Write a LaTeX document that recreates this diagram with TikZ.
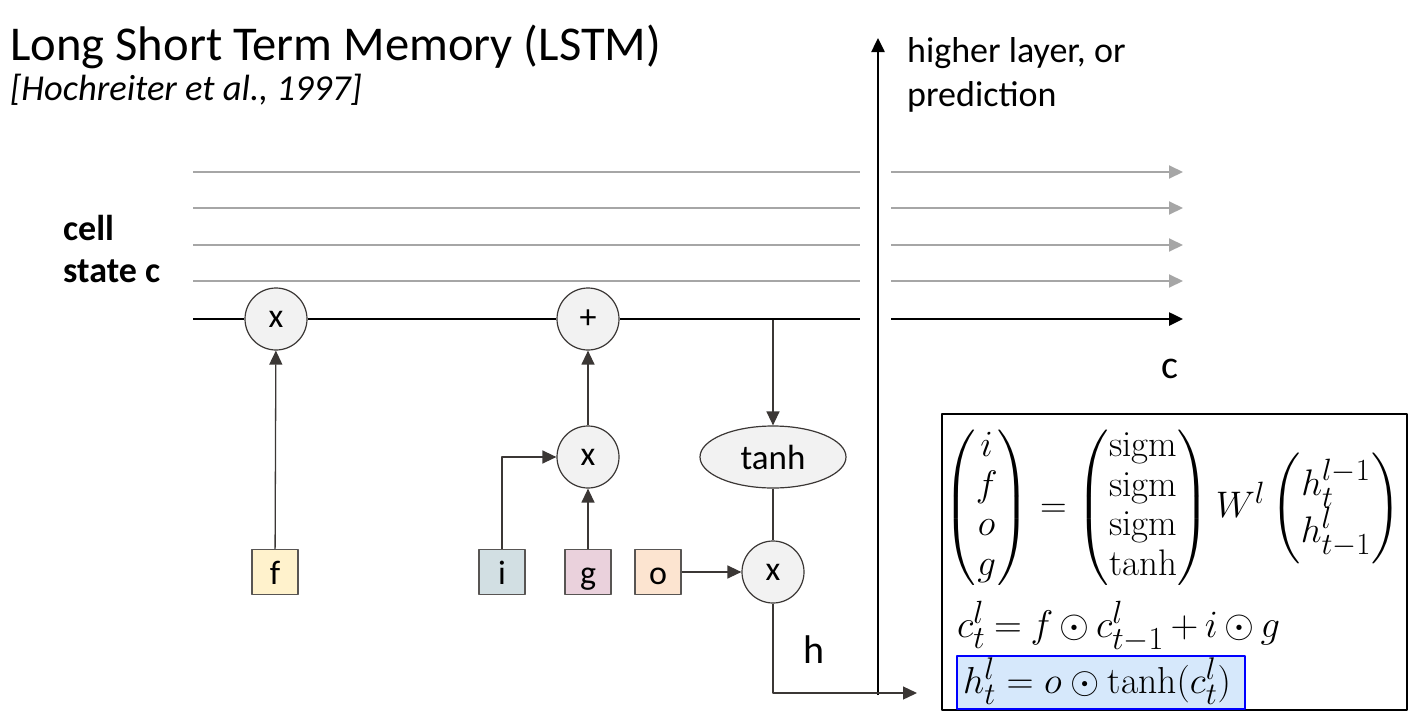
\RequirePackage{fix-cm}
\documentclass[tikz,border=0pt]{standalone}
\usepackage{amsmath}
\usepackage{fontspec}
\newfontfamily\calib{Carlito}
\usetikzlibrary{arrows.meta,shapes.geometric}
\definecolor{lnk}{HTML}{3B3735}
\definecolor{opfill}{HTML}{F2F2F2}
\definecolor{faintline}{HTML}{A6A6A6}
\definecolor{fcol}{HTML}{FFF2CC}
\definecolor{icol}{HTML}{D2DFE3}
\definecolor{gcol}{HTML}{EAD1DC}
\definecolor{ocol}{HTML}{FCE4D0}
\definecolor{hlfill}{HTML}{D6E8FB}
\newcommand{\fs}[1]{\fontsize{#1}{1.2\dimexpr#1pt\relax}\selectfont}
\newcommand{\eqsize}{\fontsize{24.88}{26.8}\selectfont}
\begin{document}
\begin{tikzpicture}[x=1pt, y=-1pt, line join=round, >={Triangle[length=14pt,width=13pt]},
    op/.style={circle, draw=lnk, fill=opfill, line width=1.2pt, minimum size=62pt, inner sep=0pt, font=\calib\fs{34}},
    gatebox/.style={draw=lnk!85, line width=1.4pt, minimum width=46pt, minimum height=45pt, inner sep=0pt, text height=29pt, text depth=5pt, font=\calib\fs{34}},
    link/.style={lnk, line width=1.3pt},
    faint/.style={faintline, line width=2pt},
    cellline/.style={black, line width=2.5pt}]
\useasboundingbox (0,0) rectangle (1428,726);
% title
\node[anchor=base west, inner sep=0pt, font=\calib\fs{48.6}] (title) at (10,60) {Long Short Term Memory (LSTM)};
\node[anchor=base west, inner sep=0pt, font=\calib\itshape\fs{36.5}] (cite) at (10,100) {[Hochreiter et al., 1997]};
\node[anchor=base west, inner sep=0pt, font=\calib\bfseries\fs{36}] (cellA) at (63,240) {cell};
\node[anchor=base west, inner sep=0pt, font=\calib\bfseries\fs{36}] (cellB) at (63,282) {state c};
% cell state lines
\foreach \yy in {172,208,245,281} {
  \draw[faint] (193,\yy) -- (860,\yy);
  \draw[faint,->] (891,\yy) -- (1183,\yy);
}
% operations
\node[op] (multF) at (276,319) {x};
\node[op] (addC) at (588,319) {+};
\node[op] (multI) at (588,457) {x};
\node[ellipse, draw=lnk, fill=opfill, line width=1.2pt, minimum width=146pt, minimum height=62pt, inner sep=0pt, font=\calib\fs{35}] (tanhC) at (773,457) {tanh};
\node[op] (multO) at (773,572) {x};
% gates
\node[gatebox, fill=fcol] (boxF) at (275,572) {f};
\node[gatebox, fill=icol] (boxI) at (502,572) {i};
\node[gatebox, fill=gcol] (boxG) at (588,572) {g};
\node[gatebox, fill=ocol] (boxO) at (658,572) {o};
% cell line
\coordinate (cStart) at (193,319);
\coordinate (cGap) at (860,319);
\coordinate (cNext) at (891,319);
\coordinate (cEnd) at (1183,319);
\coordinate (tap) at (773,320);
\draw[cellline] (cStart) -- (multF.west);
\draw[cellline] (multF.east) -- (addC.west);
\draw[cellline] (addC.east) -- (cGap);
\draw[cellline,->] (cNext) -- (cEnd);
\node[anchor=base, inner sep=0pt, font=\calib\fs{40}] (cLabel) at (1170,378) {c};
% connectors
\draw[link,->] (boxF) -- (multF);
\draw[link,->] (boxI.north) |- (multI.west);
\draw[link,->] (boxG) -- (multI);
\draw[link,->] (multI) -- (addC);
\draw[link,->] (tap) -- (tanhC);
\draw[link] (tanhC) -- (multO);
\draw[link,->] (boxO) -- (multO);
% upward output
\coordinate (upBot) at (878,695);
\coordinate (upTop) at (878,38);
\draw[black, line width=2.5pt, ->] (upBot) -- (upTop);
\node[anchor=base west, inner sep=0pt, font=\calib\fs{36}] (upA) at (907,62) {higher layer, or};
\node[anchor=base west, inner sep=0pt, font=\calib\fs{36}] (upB) at (907,106) {prediction};
% hidden output
\coordinate (hEnd) at (917,693);
\draw[link,->] (multO.south) |- (hEnd);
\node[anchor=base, inner sep=0pt, font=\calib\fs{40}] (hLabel) at (814,663) {h};
% equations
\draw[black, line width=1.8pt] (942,414) rectangle (1407,710);
\draw[blue, fill=hlfill, line width=1.8pt] (957,656) rectangle (1245,709);
\node[inner sep=0pt, font=\eqsize] (eqGates) at (1172,508)
  {\scalebox{1.485}{$\begin{pmatrix} i\\ f\\ o\\ g \end{pmatrix} = \begin{pmatrix} \mathrm{sigm}\\ \mathrm{sigm}\\ \mathrm{sigm}\\ \tanh \end{pmatrix} W^l \begin{pmatrix} h^{l-1}_t\\ h^l_{t-1} \end{pmatrix}$}};
\node[anchor=base west, inner sep=0pt, font=\eqsize] (eqCell) at (957,637)
  {\scalebox{1.55}{$\thickmuskip=4mu \medmuskip=3mu c^l_t = f \odot c^l_{t-1} + i \odot g$}};
\node[anchor=base west, inner sep=0pt, font=\eqsize] (eqHid) at (963,693)
  {\scalebox{1.51}{$h^l_t = o \odot \tanh(c^l_t)$}};
\end{tikzpicture}
\end{document}
